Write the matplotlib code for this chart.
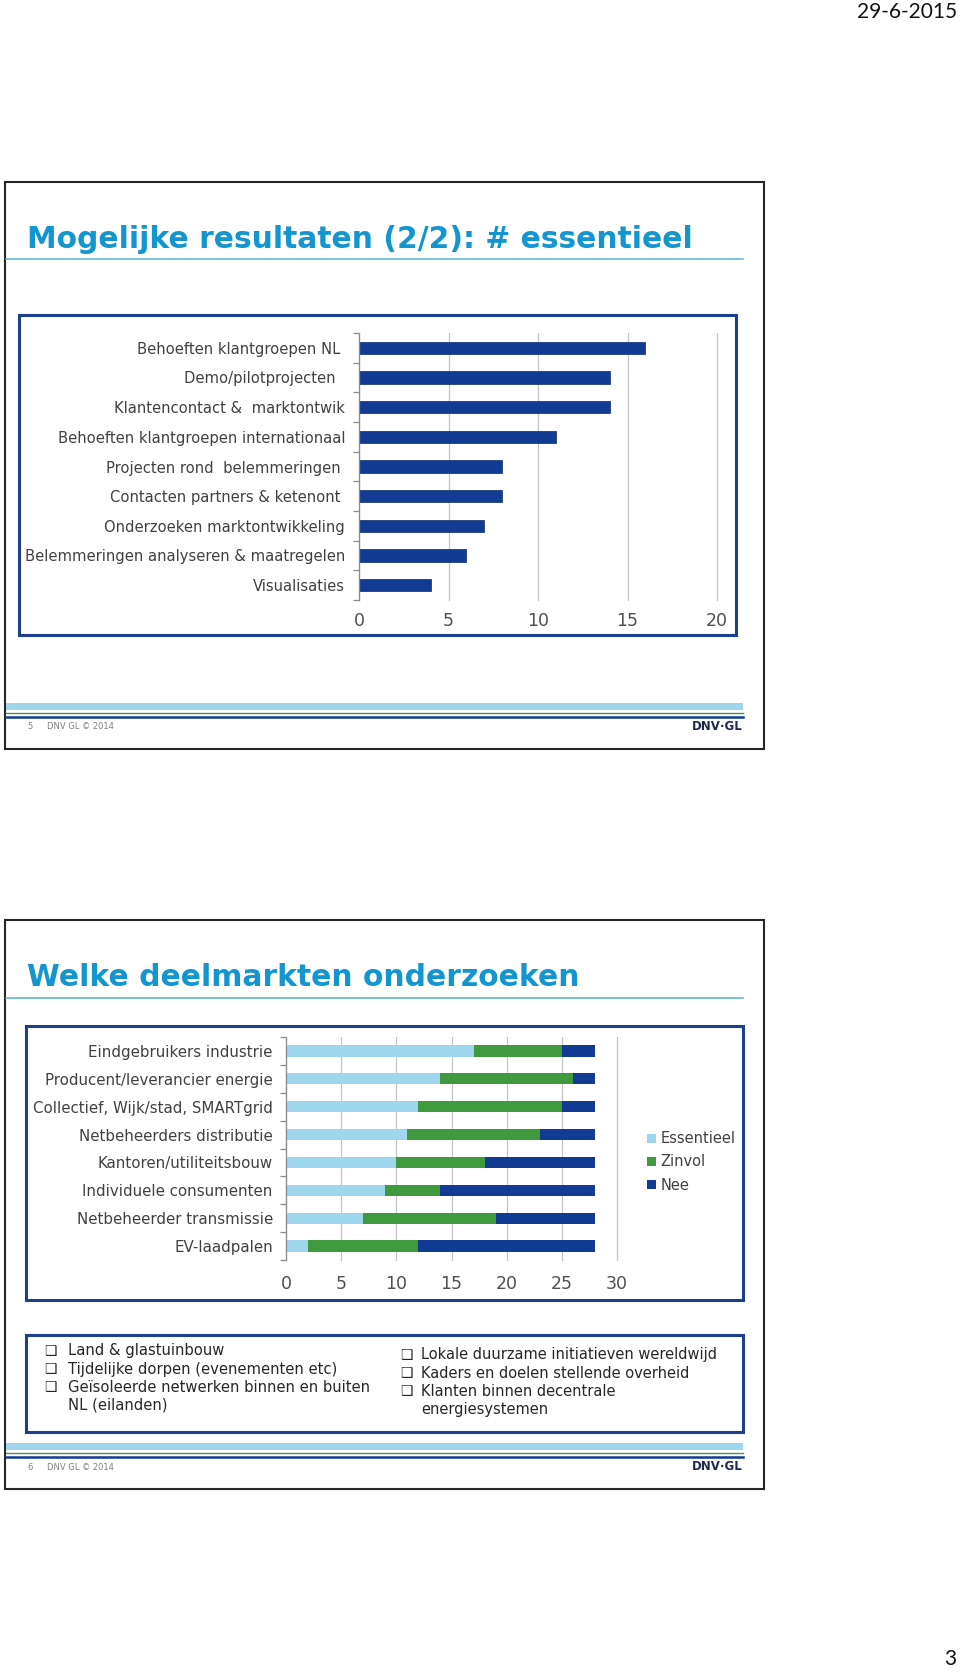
'''
twee dia's: # essentieel en deelmarkten
'''

import matplotlib
matplotlib.use('Agg')
import matplotlib.pyplot as plt
from matplotlib.patches import Rectangle
from matplotlib.lines import Line2D
import numpy as np


W = 960
H = 1672

# dia 5
top_labels = ['Behoeften klantgroepen NL ', 'Demo/pilotprojecten  ', 'Klantencontact &  marktontwik',
              'Behoeften klantgroepen internationaal', 'Projecten rond  belemmeringen ',
              'Contacten partners & ketenont ', 'Onderzoeken marktontwikkeling',
              'Belemmeringen analyseren & maatregelen', 'Visualisaties']
top_values = [16, 14, 14, 11, 8, 8, 7, 6, 4]
top_ticks = [0, 5, 10, 15, 20]

# dia 6
markt_labels = ['Eindgebruikers industrie', 'Producent/leverancier energie', 'Collectief, Wijk/stad, SMARTgrid',
                'Netbeheerders distributie', 'Kantoren/utiliteitsbouw', 'Individuele consumenten',
                'Netbeheerder transmissie', 'EV-laadpalen']
essentieel = [17, 14, 12, 11, 10, 9, 7, 2]
zinvol = [8, 12, 13, 12, 8, 5, 12, 10]
nee = [3, 2, 3, 5, 10, 14, 9, 16]
series_names = ['Essentieel', 'Zinvol', 'Nee']
markt_ticks = [0, 5, 10, 15, 20, 25, 30]

bullets_left = ['Land & glastuinbouw', 'Tijdelijke dorpen (evenementen etc)',
                'Geïsoleerde netwerken binnen en buiten', 'NL (eilanden)']
bullets_right = ['Lokale duurzame initiatieven wereldwijd', 'Kaders en doelen stellende overheid',
                 'Klanten binnen decentrale', 'energiesystemen']
bullet_marks_left = [True, True, True, False]
bullet_marks_right = [True, True, True, False]

TITLE_BLUE = '#1396CF'
DARK_BLUE = '#123C93'
LIGHT_BLUE = '#9ED6EE'
GREEN = '#3E9A3C'
GRID = '#C4C4C4'
AXIS = '#8C8C8C'
LABEL = '#404040'

plt.rcParams['font.family'] = ['DejaVu Sans']

fig = plt.figure(figsize=(W / 100, H / 100), dpi=100)


def fx(x):
    return x / W


def fy(y):
    return 1 - y / H


def box(x0, y0, x1, y1, color, lw, fill=False):
    fig.add_artist(Rectangle((fx(x0), fy(y1)), (x1 - x0) / W, (y1 - y0) / H,
                             transform=fig.transFigure, fill=fill, edgecolor=color if not fill else 'none',
                             facecolor=color if fill else 'none', lw=lw))


def hline(y, x0, x1, color, lw):
    fig.add_artist(Line2D([fx(x0), fx(x1)], [fy(y), fy(y)], transform=fig.transFigure, color=color, lw=lw))


def slide(top, bottom, title, title_y, page):
    box(5, top, 764, bottom, '#262626', 1.5)
    fig.text(fx(27), fy(title_y), title, color=TITLE_BLUE, fontsize=21.4, fontweight='bold',
             va='center', ha='left')
    hline(title_y + 20, 6, 743, '#5AB2D6', 1.1)
    # voet
    fb = bottom - 46
    box(6, fb, 743, fb + 7, LIGHT_BLUE, 0, fill=True)
    hline(fb + 10, 6, 743, GREEN, 1.0)
    hline(fb + 13.5, 6, 743, DARK_BLUE, 1.8)
    fig.text(fx(27), fy(fb + 24), page, fontsize=6, color='#7f7f7f', va='center')
    fig.text(fx(47), fy(fb + 24), 'DNV GL \u00a9 2014', fontsize=6, color='#7f7f7f', va='center')
    fig.text(fx(743), fy(fb + 23), 'DNV\u00b7GL', fontsize=8.5, color='#1d2a4d', fontweight='bold',
             va='center', ha='right')


def style_axes(ax, n, ticks, pad_y, pad_x, size):
    ax.set_facecolor('none')
    ax.set_ylim(n - 0.5, -0.5)
    ax.set_xlim(ticks[0], ticks[-1])
    ax.set_xticks(ticks)
    ax.grid(axis='x', color=GRID, lw=0.9)
    for g in ax.get_xgridlines():
        g.set_clip_on(False)
    ax.set_axisbelow(True)
    for s in ['top', 'right', 'bottom']:
        ax.spines[s].set_visible(False)
    ax.spines['left'].set_color(AXIS)
    ax.spines['left'].set_linewidth(0.9)
    ax.set_yticks(np.arange(-0.5, n, 1), minor=True)
    ax.tick_params(axis='y', which='minor', length=4, color=AXIS, width=0.9)
    ax.tick_params(axis='y', which='major', length=0, pad=pad_y, labelsize=size, labelcolor=LABEL)
    ax.tick_params(axis='x', length=0, pad=pad_x, labelsize=12.5, labelcolor='#505050')


# datum en paginanummer
fig.text(fx(957), fy(12), '29-6-2015', fontsize=15, family='Lato', ha='right', va='center', color='#111111')
fig.text(fx(956), fy(1659), '3', fontsize=15, family='Lato', ha='right', va='center', color='#111111')

# dia 5
slide(182, 749, 'Mogelijke resultaten (2/2): # essentieel', 239, '5')
box(19, 315, 736, 635, '#1E3E8E', 2.2)
ax1 = fig.add_axes([fx(359), fy(600), (717 - 359) / W, (600 - 333) / H])
ax1.barh(range(len(top_values)), top_values, height=0.42, color=DARK_BLUE, edgecolor='#0a2a6e', lw=0.5)
style_axes(ax1, len(top_values), top_ticks, 10, 9, 10.6)
ax1.set_yticks(range(len(top_labels)))
ax1.set_yticklabels(top_labels)

# dia 6
slide(920, 1489, 'Welke deelmarkten onderzoeken', 978, '6')
box(26, 1026, 743, 1300, '#1E3E8E', 2.2)
ax2 = fig.add_axes([fx(286), fy(1260), (617 - 286) / W, (1260 - 1037) / H])
pos = np.arange(len(markt_labels))
left = np.zeros(len(markt_labels))
handles = []
for vals, col, name in zip([essentieel, zinvol, nee], [LIGHT_BLUE, GREEN, DARK_BLUE], series_names):
    b = ax2.barh(pos, vals, left=left, height=0.4, color=col, label=name)
    handles.append(b)
    left = left + np.array(vals)
style_axes(ax2, len(markt_labels), markt_ticks, 9.5, 11, 10.8)
ax2.set_yticks(pos)
ax2.set_yticklabels(markt_labels)
ax2.legend(handles=handles, loc='center left', bbox_to_anchor=(fx(640), fy(1162)),
           bbox_transform=fig.transFigure, frameon=False, fontsize=10.5, labelcolor=LABEL,
           handlelength=0.6, handleheight=0.6, handletextpad=0.3, labelspacing=0.55, borderpad=0)

# opsomming
box(26, 1335, 743, 1432, '#1E3E8E', 2.2)
for col, items, marks, xb, xt, y0, size in [(0, bullets_left, bullet_marks_left, 50, 68, 1351, 10.6),
                                            (1, bullets_right, bullet_marks_right, 406, 421, 1355, 10.5)]:
    for i, (txt, mark) in enumerate(zip(items, marks)):
        y = y0 + i * 18.1
        if mark:
            fig.text(fx(xb), fy(y), '\u2751', fontsize=10, color='#222222', va='center', ha='center')
        fig.text(fx(xt), fy(y), txt, fontsize=size, color='#262626', va='center')

fig.savefig('out.png', dpi=100)
